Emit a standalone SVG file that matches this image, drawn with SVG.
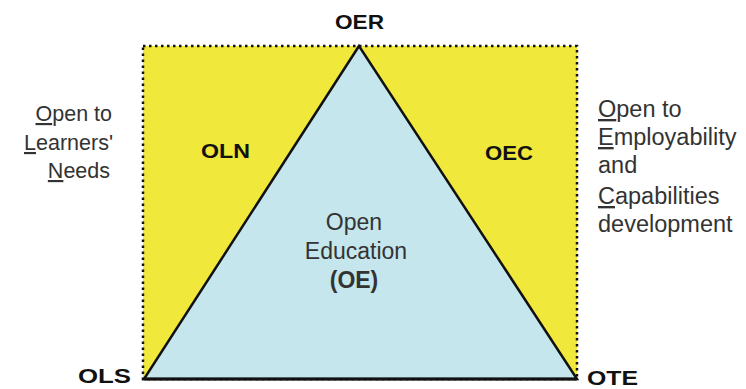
<svg xmlns="http://www.w3.org/2000/svg" width="746" height="389" viewBox="0 0 746 389">
  <style>
    .lbl { font-family: "Liberation Sans", Arial, sans-serif; font-size: 20px; font-weight: bold; fill: #111; }
    .side { font-family: "Liberation Sans", Arial, sans-serif; font-size: 23.5px; fill: #333; }
    .sideL { font-family: "Liberation Sans", Arial, sans-serif; font-size: 21.5px; fill: #333; text-anchor: end; }
    .ctr { font-family: "Liberation Sans", Arial, sans-serif; font-size: 23px; fill: #333; text-anchor: middle; }
    .u { text-decoration: underline; }
  </style>
  <rect width="746" height="389" fill="#ffffff"/>
  <g id="frame">
    <rect x="143" y="46" width="434" height="333" fill="#F0E83A" stroke="#111" stroke-width="2.5" stroke-dasharray="2.5 3.5"/>
  </g>
  <g id="triangle">
    <polygon points="359,46 144,379 577,379" fill="#C4E6EC" stroke="#111" stroke-width="2.5" stroke-linejoin="miter"/>
    <line x1="144" y1="379" x2="577" y2="379" stroke="#111" stroke-width="3"/>
  </g>
  <g id="OER"><text class="lbl" x="335" y="29" textLength="49" lengthAdjust="spacingAndGlyphs">OER</text></g>
  <g id="OLS"><text class="lbl" x="78" y="383" textLength="53" lengthAdjust="spacingAndGlyphs">OLS</text></g>
  <g id="OTE"><text class="lbl" x="587" y="385" font-size="19" textLength="51" lengthAdjust="spacingAndGlyphs">OTE</text></g>
  <g id="OLN"><text class="lbl" x="201" y="158" textLength="49" lengthAdjust="spacingAndGlyphs">OLN</text></g>
  <g id="OEC"><text class="lbl" x="485" y="160" textLength="48" lengthAdjust="spacingAndGlyphs">OEC</text></g>
  <g id="OE">
    <text class="ctr" x="354" y="230">Open</text>
    <text class="ctr" x="356" y="259">Education</text>
    <text class="ctr" x="354" y="288" font-weight="bold">(OE)</text>
  </g>
  <g id="left-label">
    <text class="sideL" x="112" y="121"><tspan class="u">O</tspan>pen to</text>
    <text class="sideL" x="113" y="150"><tspan class="u">L</tspan>earners'</text>
    <text class="sideL" x="110" y="178"><tspan class="u">N</tspan>eeds</text>
  </g>
  <g id="right-label">
    <text class="side" x="598" y="117"><tspan class="u">O</tspan>pen to</text>
    <text class="side" x="598" y="145"><tspan class="u">E</tspan>mployability</text>
    <text class="side" x="598" y="173">and</text>
    <text class="side" x="598" y="204"><tspan class="u">C</tspan>apabilities</text>
    <text class="side" x="598" y="232">development</text>
  </g>
</svg>
